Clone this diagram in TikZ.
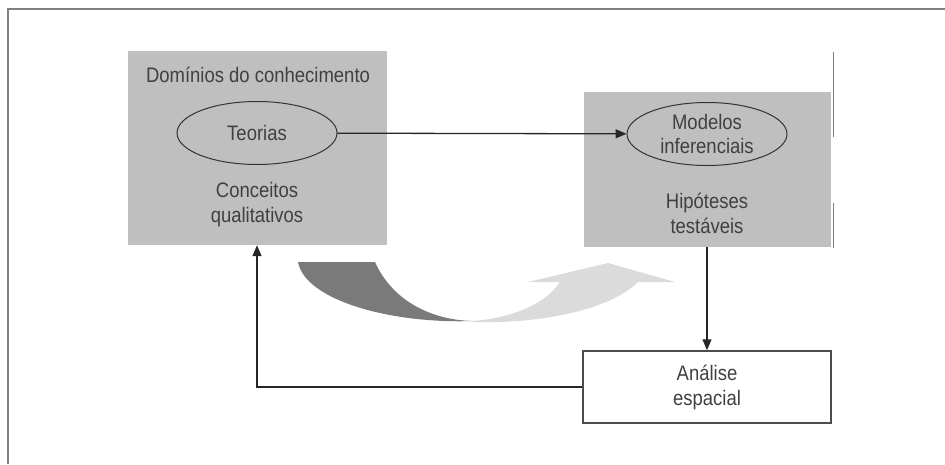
\documentclass[tikz,border=0pt]{standalone}
\usepackage{fontspec}
\setmainfont[FakeStretch=0.88]{Liberation Sans}
\usetikzlibrary{arrows.meta,positioning,shapes.geometric}

\definecolor{caixacinza}{gray}{0.75}
\definecolor{textocinza}{gray}{0.25}
\definecolor{escuro}{gray}{0.48}
\definecolor{claro}{gray}{0.86}

\tikzset{
  campo/.style={fill=caixacinza, inner sep=0pt},
  oval/.style={draw=black!80, ellipse, line width=1pt, minimum width=160pt,
    minimum height=63pt, inner sep=0pt},
  rotulo/.style={text=textocinza, font=\fontsize{21}{25}\selectfont, align=center},
  seta/.style={draw=black!85, line width=1.3pt, -{Triangle[length=11pt,width=9pt]}},
}

\begin{document}
\begin{tikzpicture}[x=1pt, y=-1pt]

  \useasboundingbox (0,0) rectangle (945,464);

  % moldura
  \draw[gray, line width=2pt] (8,464) -- (8,9) -- (945,9);

  % caixas cinzentas
  \node[campo, minimum width=259pt, minimum height=194pt] (dominios) at (257,148) {};
  \node[campo, minimum width=247pt, minimum height=155pt] (hipbox) at (707,169.5) {};
  \draw[gray, line width=0.6pt] (833,52) -- (833,137) (833,203) -- (833,248);

  \node[rotulo] (titulo) at (258,75) {Domínios do conhecimento};
  \node[oval, rotulo] (teorias) at (257,133) {Teorias};
  \node[rotulo] (conceitos) at (257,205) {Conceitos\\qualitativos};

  \node[oval, rotulo, font=\fontsize{21}{24}\selectfont] (modelos) at (707,134) {Modelos\\inferenciais};
  \node[rotulo] (hipoteses) at (707,213) {Hipóteses\\testáveis};

  \node[rotulo, draw=black!70, line width=1.5pt, minimum width=248pt,
    minimum height=72pt, inner sep=0pt] (analise) at (707,387) {Análise\\espacial};

  % seta curva
  \fill[escuro] (298,262) -- (375,262)
    .. controls (392,300) and (430,320) .. (473,321)
    .. controls (390,324) and (305,300) .. cycle;
  \fill[claro] (473,321) .. controls (510,318) and (545,305) .. (560,282)
    -- (528,282) -- (608,263) -- (675,282) -- (638,282)
    .. controls (610,310) and (540,324) .. (473,322) -- cycle;

  % ligacoes
  \draw[seta] (teorias) -- (modelos);
  \draw[seta] (hipbox.south) -- (analise.north);
  \draw[seta] (analise.west) -| (dominios.south);

\end{tikzpicture}
\end{document}
